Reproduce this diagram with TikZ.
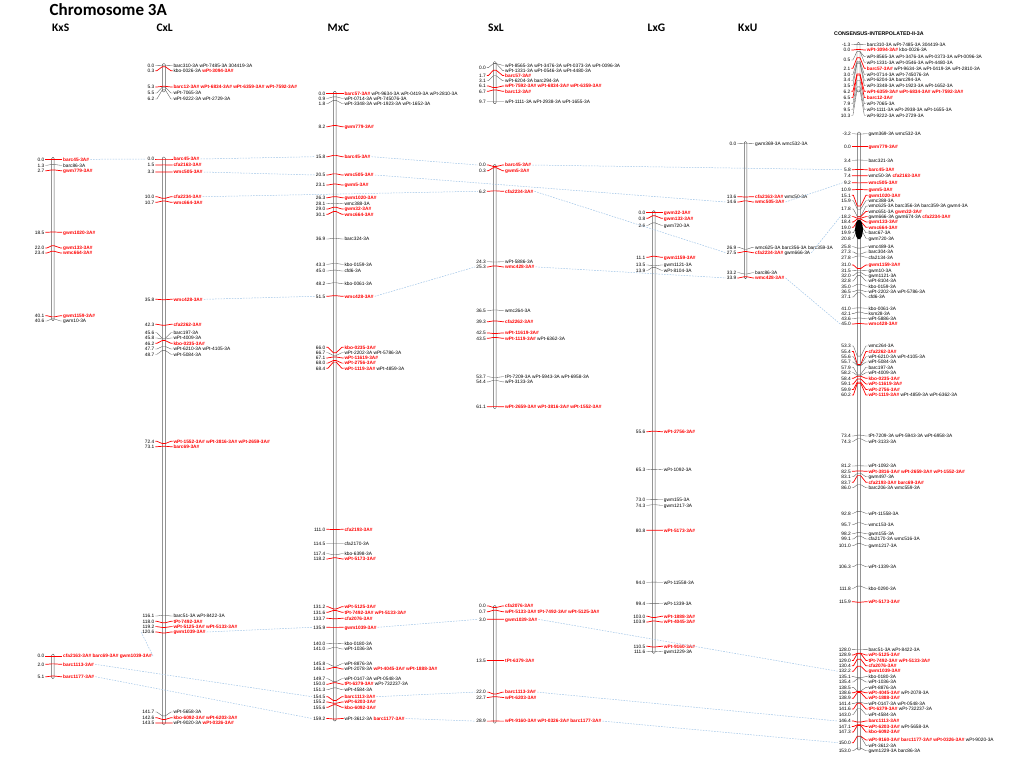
\documentclass[tikz,border=0pt]{standalone}
\usepackage{fontspec}
\setmainfont{Liberation Sans}
\newfontfamily\carl{Carlito}
\definecolor{lblue}{RGB}{160,196,230}
\definecolor{mred}{RGB}{255,0,0}
\definecolor{tgray}{RGB}{90,90,90}
\newcommand\redm[1]{{\color{mred}\bfseries #1}}
\newcommand\fsz{\fontsize{4.8}{5}\selectfont}
\newcommand\MKF[6]{%
  \pgfmathsetmacro\Ty{\Yz+(#2)*\Ysc}%
  \node[plab] (#1p) at (\XL,#3) {#2};%
  \node[nlab] (#1n) at (\XN,#4) {#6};%
  \draw[#5] (\XL+0.8,#3) -- (\XL+2.4,#3) -- (\XBL,\Ty) -- (\XBR,\Ty) -- (\XN-2.4,#4) -- (\XN-0.8,#4);%
}
\newcommand\MK[5]{\MKF{#1}{#2}{#3}{#3}{#4}{#5}}
\newcommand\MKN[5]{%
  \pgfmathsetmacro\Ty{\Yz+(#2)*\Ysc}%
  \node[nlab] (#1n) at (\XN,#3) {#5};%
  \draw[#4] (\XBL,\Ty) -- (\XBR,\Ty) -- (\XN-2.4,#3) -- (\XN-0.8,#3);%
}
\begin{document}
\begin{tikzpicture}[x=1pt,y=-1pt,
  plab/.style={anchor=east,inner sep=0pt,font=\fsz,text height=3.5pt,text depth=0pt},
  nlab/.style={anchor=west,inner sep=0pt,font=\fsz,text height=3.5pt,text depth=0pt},
  tr/.style={draw=mred,line width=0.7pt},
  tb/.style={draw=tgray,line width=0.35pt},
  bar/.style={draw=tgray,line width=0.45pt,rounded corners=1.2pt},
  cn/.style={draw=lblue,dash pattern=on 1.6pt off 1.2pt,line width=0.5pt},
  hdr/.style={anchor=base west,inner sep=0pt,font=\carl\bfseries\fontsize{11.5}{12}\selectfont}]
\useasboundingbox (0,0) rectangle (1024,768);
\def\Ysc{3.93}
% titles
\node[anchor=base west,inner sep=0pt,font=\carl\bfseries\fontsize{17}{17}\selectfont] (title) at (49.5,16) {Chromosome 3A};
\node[hdr] (hK) at (52,32) {KxS};
\node[hdr] (hC) at (156.3,32) {CxL};
\node[hdr] (hM) at (327.5,32) {MxC};
\node[hdr] (hS) at (488,32) {SxL};
\node[hdr] (hL) at (647.5,32) {LxG};
\node[hdr] (hU) at (738,32) {KxU};
\node[anchor=base west,inner sep=0pt,font=\bfseries\fontsize{5.3}{6}\selectfont] (hN) at (834,36) {CONSENSUS-INTERPOLATED-II-3A};
% ================= KxS
\def\XL{44.5}\def\XBL{51.7}\def\XBR{54.2}\def\XN{63}
\def\Yz{159.3}
\draw[bar] (\XBL,157.3) rectangle (\XBR,320.7);
\MK{k1}{0.0}{159.3}{tr}{\redm{barc45-3A\#}}
\MK{k2}{1.3}{165.3}{tb}{barc86-3A}
\MK{k3}{2.7}{170.7}{tr}{\redm{gwm779-3A\#}}
\MK{k4}{18.5}{232.3}{tr}{\redm{gwm1020-3A\#}}
\MK{k5}{22.0}{248}{tr}{\redm{gwm133-3A\#}}
\MK{k6}{23.4}{253}{tr}{\redm{wmc664-3A\#}}
\MK{k7}{40.1}{315.7}{tr}{\redm{gwm1159-3A\#}}
\MK{k8}{40.6}{321}{tb}{gwm10-3A}
\def\Yz{656}
\draw[bar] (\XBL,654) rectangle (\XBR,678.6);
\MK{k9}{0.0}{656}{tr}{\redm{cfa2163-3A\# barc69-3A\# gwm1039-3A\#}}
\MK{k10}{2.0}{664.3}{tr}{\redm{barc1113-3A\#}}
\MK{k11}{5.1}{676.7}{tr}{\redm{barc1177-3A\#}}
% ================= CxL
\def\XL{154.5}\def\XBL{162.3}\def\XBR{165.3}\def\XN{173.3}
\def\Yz{65.5}
\draw[bar] (\XBL,63.5) rectangle (\XBR,92);
\MK{c1}{0.0}{65.7}{tb}{barc310-3A wPt-7485-3A 304419-3A}
\MK{c2}{0.3}{70.7}{tr}{kbo-0026-3A \redm{wPt-3094-3A\#}}
\MK{c3}{5.3}{87}{tr}{\redm{barc12-3A\# wPt-6834-3A\# wPt-6359-3A\# wPt-7592-3A\#}}
\MK{c4}{5.5}{93}{tb}{wPt-7065-3A}
\MK{c5}{6.2}{99}{tb}{wPt-9222-3A wPt-2729-3A}
\def\Yz{159}
\draw[bar] (\XBL,157) rectangle (\XBR,724.5);
\MK{c6}{0.0}{159}{tr}{\redm{barc45-3A\#}}
\MK{c7}{1.5}{165}{tr}{\redm{cfa2163-3A\#}}
\MK{c8}{3.3}{172}{tr}{\redm{wmc505-3A\#}}
\MK{c9}{10.0}{196.7}{tr}{\redm{cfa2234-3A\#}}
\MK{c10}{10.7}{202.3}{tr}{\redm{wmc664-3A\#}}
\MK{c11}{35.8}{299.3}{tr}{\redm{wmc428-3A\#}}
\MK{c12}{42.3}{324.3}{tr}{\redm{cfa2262-3A\#}}
\MK{c13}{45.6}{332.7}{tb}{barc197-3A}
\MK{c14}{45.8}{338}{tb}{wPt-4009-3A}
\MK{c15}{46.2}{343.3}{tr}{\redm{kbo-0235-3A\#}}
\MK{c16}{47.7}{349}{tb}{wPt-6210-3A wPt-4105-3A}
\MK{c17}{48.7}{354.3}{tb}{wPt-5084-3A}
\MK{c18}{72.4}{441.3}{tr}{\redm{wPt-1552-3A\# wPt-3816-3A\# wPt-2659-3A\#}}
\MK{c19}{73.1}{446.7}{tr}{\redm{barc69-3A\#}}
\MK{c20}{116.1}{616}{tb}{barc51-3A wPt-8422-3A}
\MK{c21}{118.0}{621.3}{tr}{\redm{tPt-7492-3A\#}}
\MK{c22}{119.2}{626.6}{tr}{\redm{wPt-5125-3A\# wPt-5133-3A\#}}
\MK{c23}{120.6}{632}{tr}{\redm{gwm1039-3A\#}}
\MK{c24}{141.7}{712}{tb}{wPt-5658-3A}
\MK{c25}{142.6}{717.7}{tr}{\redm{kbo-6092-3A\# wPt-6203-3A\#}}
\MK{c26}{143.5}{723}{tr}{wPt-9020-3A \redm{wPt-0326-3A\#}}
% ================= MxC
\def\XL{325.5}\def\XBL{333.3}\def\XBR{336.2}\def\XN{344.3}
\def\Yz{93.3}
\draw[bar] (\XBL,91.3) rectangle (\XBR,721);
\MK{m1}{0.0}{93.3}{tr}{\redm{barc57-3A\#} wPt-9634-3A wPt-0419-3A wPt-2810-3A}
\MK{m2}{0.9}{98.3}{tb}{wPt-0714-3A wPt-745076-3A}
\MK{m3}{1.8}{103.5}{tb}{wPt-3348-3A wPt-1923-3A wPt-1652-3A}
\MK{m4}{8.2}{126.7}{tr}{\redm{gwm779-3A\#}}
\MK{m5}{15.8}{156.7}{tr}{\redm{barc45-3A\#}}
\MK{m6}{20.5}{175}{tr}{\redm{wmc505-3A\#}}
\MK{m7}{23.1}{185}{tr}{\redm{gwm5-3A\#}}
\MK{m8}{26.3}{197.7}{tr}{\redm{gwm1020-3A\#}}
\MK{m9}{28.1}{203.3}{tb}{wmc388-3A}
\MK{m10}{29.0}{209}{tr}{\redm{gwm32-3A\#}}
\MK{m11}{30.1}{214.3}{tr}{\redm{wmc664-3A\#}}
\MK{m12}{36.9}{239}{tb}{barc324-3A}
\MK{m13}{43.3}{264.3}{tb}{kbo-0159-3A}
\MK{m14}{45.0}{271}{tb}{cfd6-3A}
\MK{m15}{48.2}{283.7}{tb}{kbo-0061-3A}
\MK{m16}{51.5}{296.3}{tr}{\redm{wmc428-3A\#}}
\MK{m17}{66.0}{347.3}{tr}{\redm{kbo-0235-3A\#}}
\MK{m18}{66.7}{352.7}{tb}{wPt-2202-3A wPt-5786-3A}
\MK{m19}{67.1}{357.9}{tr}{\redm{wPt-11619-3A\#}}
\MK{m20}{68.0}{363.1}{tr}{\redm{wPt-2756-3A\#}}
\MK{m21}{68.4}{368.3}{tr}{\redm{wPt-1119-3A\#} wPt-4859-3A}
\MK{m22}{111.0}{529.3}{tr}{\redm{cfa2193-3A\#}}
\MK{m23}{114.5}{543.3}{tb}{cfa2170-3A}
\MK{m24}{117.4}{553.7}{tb}{kbo-6398-3A}
\MK{m25}{118.2}{558.9}{tr}{\redm{wPt-5173-3A\#}}
\MK{m26}{131.2}{606.7}{tr}{\redm{wPt-5125-3A\#}}
\MK{m27}{131.6}{612.3}{tr}{\redm{tPt-7492-3A\# wPt-5133-3A\#}}
\MK{m28}{133.7}{618.3}{tr}{\redm{cfa2076-3A\#}}
\MK{m29}{135.9}{627.3}{tr}{\redm{gwm1039-3A\#}}
\MK{m30}{140.0}{643.7}{tb}{kbo-0180-3A}
\MK{m31}{141.0}{649}{tb}{wPt-1036-3A}
\MK{m32}{145.8}{663.7}{tb}{wPt-8876-3A}
\MK{m33}{146.1}{669}{tr}{wPt-2078-3A \redm{wPt-4045-3A\# wPt-1888-3A\#}}
\MK{m34}{149.7}{678.7}{tb}{wPt-0147-3A wPt-0548-3A}
\MK{m35}{150.0}{684.2}{tr}{\redm{tPt-6379-3A\#} wPt-732237-3A}
\MK{m36}{151.3}{689.7}{tb}{wPt-4584-3A}
\MK{m37}{154.5}{696.7}{tr}{\redm{barc1113-3A\#}}
\MK{m38}{155.2}{702}{tr}{\redm{wPt-6203-3A\#}}
\MK{m39}{155.6}{707.3}{tr}{\redm{kbo-6092-3A\#}}
\MK{m40}{159.2}{718.5}{tr}{wPt-3612-3A \redm{barc1177-3A\#}}
% ================= SxL
\def\XL{486}\def\XBL{493.3}\def\XBR{496.2}\def\XN{505}
\def\Yz{63.6}
\draw[bar] (\XBL,61.6) rectangle (\XBR,103.7);
\MKF{s1}{0.0}{67.6}{65.3}{tb}{wPt-8565-3A wPt-3476-3A wPt-0373-3A wPt-0096-3A}
\MKN{s1b}{0.0}{70.4}{tb}{wPt-1331-3A wPt-0546-3A wPt-4480-3A}
\MK{s2}{1.7}{75.5}{tr}{\redm{barc57-3A\#}}
\MK{s3}{3.1}{80.7}{tb}{wPt-6204-3A barc294-3A}
\MK{s4}{6.1}{86}{tr}{\redm{wPt-7592-3A\# wPt-6834-3A\# wPt-6359-3A\#}}
\MK{s5}{6.7}{91.3}{tr}{\redm{barc12-3A\#}}
\MK{s6}{9.7}{101.7}{tb}{wPt-1111-3A wPt-2938-3A wPt-1655-3A}
\def\Yz{166.5}
\draw[bar] (\XBL,164.5) rectangle (\XBR,408.6);
\MK{s7}{0.0}{165}{tr}{\redm{barc45-3A\#}}
\MK{s8}{0.3}{170.7}{tr}{\redm{gwm5-3A\#}}
\MK{s9}{6.2}{191.3}{tr}{\redm{cfa2234-3A\#}}
\MK{s10}{24.3}{261.7}{tb}{wPt-5886-3A}
\MK{s11}{25.3}{266.9}{tr}{\redm{wmc428-3A\#}}
\MK{s12}{36.5}{310.7}{tb}{wmc264-3A}
\MK{s13}{39.3}{321.7}{tr}{\redm{cfa2262-3A\#}}
\MK{s14}{42.5}{332.9}{tr}{\redm{wPt-11619-3A\#}}
\MK{s15}{43.5}{338.3}{tr}{\redm{wPt-1119-3A\#} wPt-6362-3A}
\MK{s16}{53.7}{376.7}{tb}{tPt-7209-3A wPt-5943-3A wPt-6958-3A}
\MK{s17}{54.4}{381.9}{tb}{wPt-3133-3A}
\MK{s18}{61.1}{406.7}{tr}{\redm{wPt-2659-3A\# wPt-3816-3A\# wPt-1552-3A\#}}
\def\Yz{607.5}
\draw[bar] (\XBL,605.5) rectangle (\XBR,723.1);
\MK{s19}{0.0}{605.9}{tr}{\redm{cfa2076-3A\#}}
\MK{s20}{0.7}{611.7}{tr}{\redm{wPt-5133-3A\# tPt-7492-3A\# wPt-5125-3A\#}}
\MK{s21}{3.0}{619.3}{tr}{\redm{gwm1039-3A\#}}
\MK{s22}{13.5}{660.5}{tr}{\redm{tPt-6379-3A\#}}
\MK{s23}{22.0}{692.1}{tr}{\redm{barc1113-3A\#}}
\MK{s24}{22.7}{697.4}{tr}{\redm{wPt-6203-3A\#}}
\MK{s25}{28.9}{721.1}{tr}{\redm{wPt-9160-3A\# wPt-0326-3A\# barc1177-3A\#}}
% ================= LxG
\def\XL{645.5}\def\XBL{652.3}\def\XBR{655.2}\def\XN{663.7}
\def\Yz{212.7}
\draw[bar] (\XBL,210.7) rectangle (\XBR,653.3);
\MK{l1}{0.0}{212.7}{tr}{\redm{gwm32-3A\#}}
\MK{l2}{0.8}{218.3}{tr}{\redm{gwm133-3A\#}}
\MK{l3}{2.6}{225.3}{tb}{gwm720-3A}
\MK{l4}{11.1}{257.3}{tr}{\redm{gwm1159-3A\#}}
\MK{l5}{13.5}{265}{tb}{gwm1121-3A}
\MK{l6}{13.9}{270.3}{tb}{wPt-8104-3A}
\MK{l7}{55.6}{431.7}{tr}{\redm{wPt-2756-3A\#}}
\MK{l8}{65.3}{469.7}{tb}{wPt-1092-3A}
\MK{l9}{73.0}{499.8}{tb}{gwm155-3A}
\MK{l10}{74.3}{505.3}{tb}{gwm1217-3A}
\MK{l11}{80.8}{530.3}{tr}{\redm{wPt-5173-3A\#}}
\MK{l12}{94.0}{582.3}{tb}{wPt-11558-3A}
\MK{l13}{99.4}{603.3}{tb}{wPt-1339-3A}
\MK{l14}{103.0}{616.3}{tr}{\redm{wPt-1888-3A\#}}
\MK{l15}{103.9}{622}{tr}{\redm{wPt-4045-3A\#}}
\MK{l16}{110.5}{646.3}{tr}{\redm{wPt-9160-3A\#}}
\MK{l17}{111.6}{651.7}{tb}{gwm1229-3A}
% ================= KxU
\def\XL{736.5}\def\XBL{744.3}\def\XBR{746.8}\def\XN{755}
\def\Yz{143.5}
\draw[bar] (\XBL,141.5) rectangle (\XBR,278.7);
\MK{u1}{0.0}{143.3}{tb}{gwm369-3A wmc532-3A}
\MK{u2}{13.6}{196.7}{tr}{\redm{cfa2163-3A\#} wmc50-3A}
\MK{u3}{14.6}{202}{tr}{\redm{wmc505-3A\#}}
\MK{u4}{26.9}{247.3}{tb}{wmc625-3A barc356-3A barc359-3A}
\MK{u5}{27.5}{252.7}{tr}{\redm{cfa2234-3A\#} gwm666-3A}
\MK{u6}{33.2}{272.7}{tb}{barc86-3A}
\MK{u7}{33.9}{277.9}{tr}{\redm{wmc428-3A\#}}
% ================= Consensus (top group)
\def\XL{850.5}\def\XBL{857}\def\XBR{860}\def\XN{866.7}
\def\Yz{49.5}
\draw[bar] (\XBL,42.4) rectangle (\XBR,92);
\MK{t1}{-1.3}{44.3}{tb}{barc310-3A wPt-7485-3A 304419-3A}
\MK{t2}{0.0}{50}{tr}{\redm{wPt-3094-3A\#} kbo-0026-3A}
\MKF{t3}{0.5}{60}{56.7}{tb}{wPt-8565-3A wPt-3476-3A wPt-0373-3A wPt-0096-3A}
\MKN{t3b}{0.5}{62.3}{tb}{wPt-1331-3A wPt-0546-3A wPt-4480-3A}
\MK{t4}{2.1}{68.3}{tr}{\redm{barc57-3A\#} wPt-9634-3A wPt-0419-3A wPt-2810-3A}
\MK{t5}{3.0}{74.5}{tb}{wPt-0714-3A wPt-745076-3A}
\MK{t6}{3.4}{80.2}{tb}{wPt-6204-3A barc294-3A}
\MK{t7}{3.5}{85.7}{tb}{wPt-3348-3A wPt-1923-3A wPt-1652-3A}
\MK{t8}{6.2}{91.3}{tr}{\redm{wPt-6359-3A\# wPt-6834-3A\# wPt-7592-3A\#}}
\MK{t9}{6.5}{97.6}{tr}{\redm{barc12-3A\#}}
\MK{t10}{7.9}{103.7}{tb}{wPt-7065-3A}
\MK{t11}{9.5}{109.3}{tb}{wPt-1111-3A wPt-2938-3A wPt-1655-3A}
\MK{t12}{10.3}{115.3}{tb}{wPt-9222-3A wPt-2729-3A}
% ================= Consensus (main group)
\def\XL{851}\def\XBL{857.3}\def\XBR{860.7}\def\XN{868.3}
\def\Yz{146.7}
\draw[bar] (\XBL,132.1) rectangle (\XBR,750);
\MK{n1}{-3.2}{133.7}{tb}{gwm369-3A wmc532-3A}
\MK{n2}{0.0}{146.7}{tr}{\redm{gwm779-3A\#}}
\MK{n3}{3.4}{160.3}{tb}{barc321-3A}
\MK{n4}{5.8}{169.7}{tr}{\redm{barc45-3A\#}}
\MK{n5}{7.4}{175.7}{tr}{wmc50-3A \redm{cfa2163-3A\#}}
\MK{n6}{9.2}{182.7}{tr}{\redm{wmc505-3A\#}}
\MK{n7}{10.9}{189.7}{tr}{\redm{gwm5-3A\#}}
\MK{n8}{15.1}{195.3}{tr}{\redm{gwm1020-3A\#}}
\MK{n9}{15.9}{200.7}{tb}{wmc388-3A}
\MKF{n10}{17.8}{209}{206.1}{tb}{wmc625-3A barc356-3A barc359-3A gwm4-3A}
\MKN{n10b}{17.8}{211.4}{tr}{wmc651-3A \redm{gwm32-3A\#}}
\MK{n11}{18.2}{216.6}{tr}{gwm666-3A gwm674-3A \redm{cfa2234-3A\#}}
\MK{n12}{18.4}{221.9}{tr}{\redm{gwm133-3A\#}}
\MK{n13}{19.0}{227.3}{tr}{\redm{wmc664-3A\#}}
\MK{n14}{19.9}{232.8}{tb}{barc67-3A}
\MK{n15}{20.8}{238.3}{tb}{gwm720-3A}
\MK{n16}{25.8}{246.7}{tb}{wmc489-3A}
\MK{n17}{27.3}{252}{tb}{barc304-3A}
\MK{n18}{27.8}{257.3}{tb}{cfa2134-3A}
\MK{n19}{31.0}{265}{tr}{\redm{gwm1159-3A\#}}
\MK{n20}{31.5}{270.3}{tb}{gwm10-3A}
\MK{n21}{32.0}{275.7}{tb}{gwm1121-3A}
\MK{n22}{32.8}{281}{tb}{wPt-8104-3A}
\MK{n23}{35.0}{286.3}{tb}{kbo-0159-3A}
\MK{n24}{36.5}{291.7}{tb}{wPt-2202-3A wPt-5786-3A}
\MK{n25}{37.1}{297}{tb}{cfd6-3A}
\MK{n26}{41.0}{308.3}{tb}{kbo-0061-3A}
\MK{n27}{42.1}{313.6}{tb}{ksm28-3A}
\MK{n28}{43.6}{318.8}{tb}{wPt-5886-3A}
\MK{n29}{45.0}{324}{tr}{\redm{wmc428-3A\#}}
\MK{n30}{53.3}{346}{tb}{wmc264-3A}
\MK{n31}{55.4}{351.4}{tr}{\redm{cfa2262-3A\#}}
\MK{n32}{55.6}{356.7}{tb}{wPt-6210-3A wPt-4105-3A}
\MK{n33}{55.7}{362}{tb}{wPt-5084-3A}
\MK{n34}{57.9}{367.3}{tb}{barc197-3A}
\MK{n35}{58.2}{372.7}{tb}{wPt-4009-3A}
\MK{n36}{58.4}{378.3}{tr}{\redm{kbo-0235-3A\#}}
\MK{n37}{59.1}{383.9}{tr}{\redm{wPt-11619-3A\#}}
\MK{n38}{59.9}{389.5}{tr}{\redm{wPt-2756-3A\#}}
\MK{n39}{60.2}{395}{tr}{\redm{wPt-1119-3A\#} wPt-4859-3A wPt-6362-3A}
\MK{n40}{73.4}{436}{tb}{tPt-7209-3A wPt-5943-3A wPt-6958-3A}
\MK{n41}{74.3}{441.3}{tb}{wPt-3133-3A}
\MK{n42}{81.2}{466}{tb}{wPt-1092-3A}
\MK{n43}{82.5}{471.3}{tr}{\redm{wPt-3816-3A\# wPt-2659-3A\# wPt-1552-3A\#}}
\MK{n44}{83.1}{476.8}{tb}{gwm497-3A}
\MK{n45}{83.7}{482.3}{tr}{\redm{cfa2193-3A\# barc69-3A\#}}
\MK{n46}{86.0}{487.7}{tb}{barc206-3A wmc559-3A}
\MK{n47}{92.8}{513.3}{tb}{wPt-11558-3A}
\MK{n48}{95.7}{524.7}{tb}{wmc153-3A}
\MK{n49}{98.2}{533.7}{tb}{gwm155-3A}
\MK{n50}{99.1}{539}{tb}{cfa2170-3A wmc516-3A}
\MK{n51}{101.0}{545.7}{tb}{gwm1217-3A}
\MK{n52}{106.3}{566.7}{tb}{wPt-1339-3A}
\MK{n53}{111.8}{588.3}{tb}{kbo-0290-3A}
\MK{n54}{115.9}{601.7}{tr}{\redm{wPt-5173-3A\#}}
\MK{n55}{128.0}{649.6}{tb}{barc51-3A wPt-8422-3A}
\MK{n56}{128.9}{655}{tr}{\redm{wPt-5125-3A\#}}
\MK{n57}{129.0}{660.4}{tr}{\redm{tPt-7492-3A\# wPt-5133-3A\#}}
\MK{n58}{130.4}{665.8}{tr}{\redm{cfa2076-3A\#}}
\MK{n59}{132.2}{671.2}{tr}{\redm{gwm1039-3A\#}}
\MK{n60}{135.1}{676.6}{tb}{kbo-0180-3A}
\MK{n61}{135.4}{682}{tb}{wPt-1036-3A}
\MK{n62}{138.5}{687.4}{tb}{wPt-8876-3A}
\MK{n63}{138.6}{692.8}{tr}{\redm{wPt-4045-3A\#} wPt-2078-3A}
\MK{n64}{138.9}{698.2}{tr}{\redm{wPt-1888-3A\#}}
\MK{n65}{141.4}{703.6}{tb}{wPt-0147-3A wPt-0548-3A}
\MK{n66}{141.6}{709}{tr}{\redm{tPt-6379-3A\#} wPt-732237-3A}
\MK{n67}{143.0}{714.5}{tb}{wPt-4584-3A}
\MK{n68}{146.4}{721}{tr}{\redm{barc1113-3A\#}}
\MK{n69}{147.1}{726.5}{tr}{\redm{wPt-6203-3A\#} wPt-5658-3A}
\MK{n70}{147.3}{732}{tr}{\redm{kbo-6092-3A\#}}
\MKF{n71}{150.0}{742.7}{740}{tr}{\redm{wPt-9160-3A\# barc1177-3A\# wPt-0326-3A\#} wPt-9020-3A}
\MKN{n71b}{150.0}{745.4}{tb}{wPt-3612-3A}
\MK{n72}{153.0}{750.8}{tb}{gwm1229-3A barc86-3A}
\fill (859,229.5) ellipse [x radius=3.9pt, y radius=9.8pt];
% ================= connectors
\foreach \a/\b in {k1/c6,c6/m5,c8/m6,c9/s9,c11/m16,m5/s7,m6/u3,m16/s11,s7/n4,s9/u5,s11/u7,u3/n6,u5/n11,u7/n29,k9/c23,k10/m37,k11/m40,c23/m29,m29/s21,m37/s23,m40/s25,s21/n59,s23/n68,s25/n71}
  \draw[cn] ([xshift=1pt]\a n.east) -- ([xshift=-1pt]\b p.west);
\end{tikzpicture}
\end{document}
